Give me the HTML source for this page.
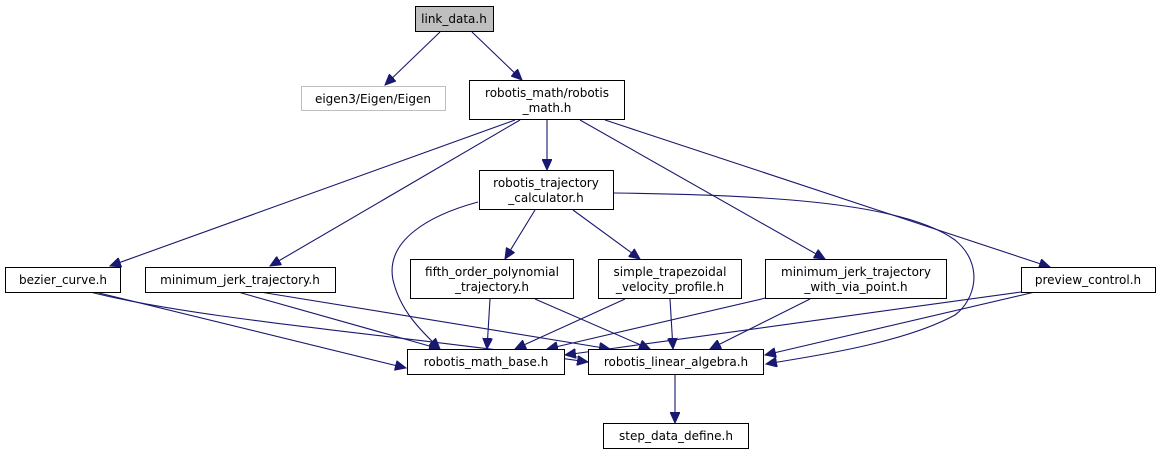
<!DOCTYPE html>
<html><head><meta charset="utf-8"><style>
html,body{margin:0;padding:0;background:#fff;}
svg{display:block;}
text{font-family:"DejaVu Sans","Liberation Sans",sans-serif;font-size:12px;fill:#000;}
</style></head><body>
<svg width="1160" height="455" viewBox="0 0 1160 455" xmlns="http://www.w3.org/2000/svg">
<defs>
<marker id="a" markerUnits="userSpaceOnUse" markerWidth="12" markerHeight="10" refX="11" refY="5" orient="auto">
<path d="M0,0 L11,5 L0,10 z" fill="#191970" stroke="#191970"/>
</marker>
</defs>
<g fill="none" stroke="#191970" stroke-width="1.1" marker-end="url(#a)">
<path d="M440,32 L385,85"/>
<path d="M472,32 L522,80"/>
<path d="M515,120 L110,266"/>
<path d="M520,120 L270,266"/>
<path d="M547,120 L547,170"/>
<path d="M580,120 L825,259"/>
<path d="M605,120 L1050,267"/>
<path d="M535,210 L505,259"/>
<path d="M573,210 L640,259"/>
<path d="M478,202 C430,215 385,240 393,280 C400,310 420,330 440,349"/>
<path d="M614,193 C750,195 900,200 955,240 C985,265 975,300 955,315 C900,345 800,358 766,364"/>
<path d="M95,292 L406,368"/>
<path d="M90,292 C200,320 400,335 588,362"/>
<path d="M238,292 L440,349"/>
<path d="M260,292 L610,349"/>
<path d="M490,299 L487,349"/>
<path d="M535,299 L650,349"/>
<path d="M625,299 L515,349"/>
<path d="M670,299 L673,349"/>
<path d="M770,297 L547,349"/>
<path d="M810,299 L710,349"/>
<path d="M1021,292 L565,355"/>
<path d="M1035,292 L765,355"/>
<path d="M675,374 L675,423"/>
</g>
<g stroke="#000" stroke-width="1" fill="#fff">
<rect x="415.5" y="6.5" width="78" height="25" fill="#bfbfbf"/>
<rect x="301.5" y="86.5" width="144" height="24" stroke="#bfbfbf"/>
<rect x="469.5" y="80.5" width="155" height="39"/>
<rect x="479.5" y="170.5" width="134" height="39"/>
<rect x="5.5" y="267.5" width="115" height="25"/>
<rect x="145.5" y="267.5" width="190" height="25"/>
<rect x="410.5" y="259.5" width="163" height="39"/>
<rect x="598.5" y="259.5" width="143" height="39"/>
<rect x="765.5" y="259.5" width="181" height="39"/>
<rect x="1021.5" y="267.5" width="134" height="25"/>
<rect x="407.5" y="349.5" width="157" height="25"/>
<rect x="588.5" y="349.5" width="175" height="25"/>
<rect x="603.5" y="423.5" width="145" height="25"/>
</g>
<g text-anchor="middle">
<text x="454" y="23">link_data.h</text>
<text x="373" y="103">eigen3/Eigen/Eigen</text>
<text x="547" y="97">robotis_math/robotis</text>
<text x="547" y="112">_math.h</text>
<text x="546" y="187">robotis_trajectory</text>
<text x="546" y="202">_calculator.h</text>
<text x="63" y="284">bezier_curve.h</text>
<text x="240" y="284">minimum_jerk_trajectory.h</text>
<text x="492" y="276">fifth_order_polynomial</text>
<text x="492" y="291">_trajectory.h</text>
<text x="670" y="276">simple_trapezoidal</text>
<text x="670" y="291">_velocity_profile.h</text>
<text x="856" y="276">minimum_jerk_trajectory</text>
<text x="856" y="291">_with_via_point.h</text>
<text x="1088" y="284">preview_control.h</text>
<text x="486" y="366">robotis_math_base.h</text>
<text x="676" y="366">robotis_linear_algebra.h</text>
<text x="676" y="440">step_data_define.h</text>
</g>
</svg>
</body></html>
